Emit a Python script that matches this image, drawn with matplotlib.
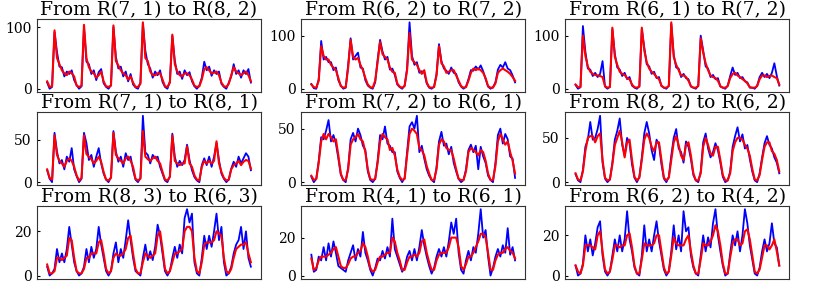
import numpy as np
import matplotlib
matplotlib.use('Agg')
import matplotlib.pyplot as plt

plt.rcParams['font.family'] = 'DejaVu Serif'

titles = ['From R(7, 1) to R(8, 2)', 'From R(6, 2) to R(7, 2)', 'From R(6, 1) to R(7, 2)',
          'From R(7, 1) to R(8, 1)', 'From R(7, 2) to R(6, 1)', 'From R(8, 2) to R(6, 2)',
          'From R(8, 3) to R(6, 3)', 'From R(4, 1) to R(6, 1)', 'From R(6, 2) to R(4, 2)']
yticks = [[0, 100], [0, 100], [0, 100],
          [0, 50], [0, 50], [0, 50],
          [0, 20], [0, 20], [0, 20]]

# observed (blue) and predicted (red), 2-hour steps over one week
p1_blue = [10, 0, 3, 92, 60, 36, 35, 20, 28, 24, 30, 14,
           6, 0, 4, 100, 44, 40, 24, 30, 14, 27, 32, 9,
           3, 0, 6, 100, 52, 33, 36, 20, 28, 12, 24, 7,
           2, 0, 10, 106, 62, 40, 33, 18, 28, 22, 30, 11,
           3, 0, 12, 86, 46, 24, 28, 16, 30, 22, 27, 12,
           4, 0, 5, 18, 44, 30, 36, 21, 30, 24, 28, 8,
           3, 0, 10, 20, 40, 24, 30, 18, 30, 24, 32, 10]
p1_red = [12, 3, 4, 95, 50, 40, 30, 25, 22, 28, 25, 20,
          5, 3, 5, 104, 50, 35, 28, 25, 18, 22, 28, 12,
          4, 3, 5, 103, 45, 38, 30, 25, 22, 15, 20, 10,
          3, 3, 8, 108, 50, 45, 28, 22, 22, 25, 25, 15,
          4, 3, 10, 88, 40, 28, 22, 20, 25, 25, 22, 15,
          5, 3, 4, 15, 32, 35, 30, 25, 26, 28, 22, 10,
          4, 3, 8, 22, 35, 28, 25, 22, 25, 28, 22, 12]

p2_blue = [9, 1, 0, 18, 90, 55, 60, 50, 50, 35, 40, 16,
           6, 0, 2, 45, 95, 55, 62, 68, 40, 38, 16, 6,
           2, 0, 12, 55, 92, 70, 55, 60, 36, 38, 26, 8,
           3, 0, 6, 38, 125, 62, 45, 50, 30, 33, 30, 10,
           2, 0, 4, 28, 84, 52, 38, 34, 28, 40, 30, 28,
           12, 4, 0, 4, 18, 35, 34, 42, 36, 44, 33, 18,
           4, 0, 3, 12, 36, 45, 40, 50, 38, 35, 25, 12]
p2_red = [8, 3, 2, 15, 80, 62, 55, 55, 45, 40, 35, 20,
          5, 2, 3, 40, 92, 60, 55, 58, 45, 35, 20, 8,
          3, 2, 15, 50, 88, 65, 60, 55, 40, 32, 30, 10,
          4, 2, 5, 35, 105, 55, 50, 45, 35, 28, 35, 12,
          3, 2, 3, 25, 80, 48, 42, 30, 32, 35, 35, 25,
          15, 5, 2, 3, 15, 30, 38, 35, 38, 35, 30, 20,
          5, 2, 2, 10, 30, 35, 38, 35, 32, 28, 22, 15]

p3_blue = [7, 0, 3, 118, 70, 38, 36, 24, 30, 22, 28, 52,
           4, 0, 4, 112, 66, 40, 36, 24, 30, 18, 22, 6,
           2, 0, 5, 112, 78, 46, 42, 28, 32, 20, 22, 5,
           2, 0, 6, 122, 64, 40, 38, 22, 28, 20, 18, 4,
           2, 0, 6, 100, 72, 42, 38, 22, 26, 18, 20, 4,
           2, 0, 6, 24, 40, 26, 30, 20, 22, 14, 12, 2,
           2, 0, 6, 22, 30, 22, 28, 20, 30, 48, 24, 6]
p3_red = [8, 3, 3, 100, 62, 42, 32, 28, 26, 25, 24, 22,
          5, 2, 3, 115, 60, 45, 32, 28, 26, 20, 18, 8,
          3, 2, 4, 115, 72, 50, 38, 32, 28, 22, 18, 6,
          2, 2, 5, 125, 60, 45, 35, 25, 25, 22, 15, 5,
          2, 2, 5, 95, 68, 48, 35, 25, 22, 20, 15, 5,
          2, 2, 5, 20, 28, 30, 25, 22, 18, 15, 10, 3,
          2, 2, 5, 18, 25, 25, 22, 24, 25, 22, 20, 8]

p4_blue = [14, 4, 0, 58, 36, 22, 26, 15, 30, 24, 40, 15,
           7, 0, 4, 58, 46, 26, 32, 18, 30, 40, 22, 10,
           3, 0, 6, 60, 36, 24, 30, 18, 34, 26, 30, 14,
           3, 0, 5, 78, 35, 32, 22, 32, 28, 30, 18, 10,
           2, 0, 7, 57, 30, 18, 25, 20, 26, 44, 26, 14,
           6, 2, 0, 20, 28, 20, 30, 18, 30, 46, 26, 10,
           4, 0, 3, 16, 24, 18, 30, 22, 28, 34, 30, 14]
p4_red = [15, 5, 3, 55, 32, 25, 22, 18, 25, 28, 25, 18,
          8, 2, 5, 55, 33, 30, 27, 22, 25, 30, 24, 12,
          3, 2, 5, 58, 32, 28, 25, 22, 28, 30, 25, 18,
          4, 2, 4, 60, 30, 27, 25, 28, 30, 25, 22, 12,
          3, 2, 6, 55, 25, 22, 20, 22, 22, 42, 22, 18,
          8, 3, 2, 18, 25, 22, 25, 22, 25, 48, 22, 12,
          5, 2, 3, 15, 20, 22, 25, 20, 24, 26, 25, 16]

p5_blue = [5, 0, 3, 20, 42, 40, 48, 58, 38, 44, 36, 22,
           7, 2, 0, 14, 40, 46, 38, 50, 44, 34, 30, 10,
           2, 0, 3, 20, 44, 40, 52, 36, 34, 28, 28, 10,
           4, 0, 4, 28, 52, 56, 50, 62, 28, 34, 22, 12,
           6, 2, 0, 14, 38, 47, 34, 36, 26, 33, 18, 10,
           3, 0, 2, 12, 30, 35, 28, 34, 12, 33, 24, 18,
           6, 2, 0, 18, 44, 50, 36, 45, 40, 24, 22, 4]
p5_red = [6, 2, 3, 18, 38, 45, 40, 45, 42, 38, 40, 25,
          8, 2, 2, 12, 35, 40, 42, 45, 40, 38, 28, 12,
          3, 2, 3, 18, 38, 45, 42, 40, 30, 32, 25, 12,
          5, 2, 3, 25, 45, 50, 48, 45, 32, 30, 25, 15,
          8, 2, 2, 12, 35, 40, 38, 32, 30, 30, 22, 12,
          3, 2, 2, 10, 28, 32, 30, 28, 25, 30, 28, 20,
          8, 2, 2, 15, 38, 45, 40, 35, 38, 28, 20, 8]

p6_blue = [9, 2, 0, 14, 40, 48, 68, 48, 50, 60, 75, 22,
           4, 0, 3, 22, 48, 58, 72, 42, 30, 50, 44, 20,
           5, 0, 6, 28, 55, 68, 55, 36, 25, 48, 42, 20,
           4, 0, 6, 30, 50, 60, 38, 34, 22, 46, 40, 26,
           8, 2, 0, 12, 45, 55, 38, 28, 34, 44, 36, 22,
           6, 0, 2, 12, 40, 52, 62, 46, 54, 38, 42, 26,
           12, 2, 0, 10, 28, 44, 52, 42, 38, 28, 22, 10]
p6_red = [10, 3, 2, 12, 35, 50, 52, 52, 45, 52, 55, 25,
          5, 2, 3, 20, 42, 50, 58, 45, 28, 45, 48, 25,
          6, 2, 5, 25, 48, 55, 50, 40, 35, 45, 45, 25,
          5, 2, 5, 25, 45, 52, 42, 30, 25, 42, 45, 30,
          10, 2, 2, 10, 40, 50, 42, 32, 30, 40, 40, 25,
          8, 2, 2, 10, 35, 45, 50, 50, 48, 42, 38, 30,
          15, 3, 2, 8, 25, 40, 45, 45, 35, 32, 25, 12]

p7_blue = [4, 0, 1, 3, 12, 6, 10, 6, 12, 22, 14, 6,
           2, 0, 1, 4, 12, 6, 13, 8, 12, 22, 14, 8,
           2, 0, 2, 10, 15, 6, 12, 8, 16, 25, 16, 8,
           2, 1, 0, 8, 14, 7, 11, 7, 13, 23, 18, 10,
           2, 0, 2, 8, 13, 8, 14, 10, 26, 30, 24, 28,
           6, 1, 0, 8, 18, 12, 18, 13, 20, 28, 16, 22,
           6, 0, 1, 4, 10, 14, 16, 22, 12, 20, 8, 4]
p7_red = [5, 1, 1, 2, 8, 8, 7, 8, 9, 17, 16, 8,
          2, 1, 1, 3, 8, 8, 10, 10, 10, 15, 16, 10,
          3, 1, 2, 8, 10, 9, 9, 10, 12, 17, 18, 10,
          3, 1, 1, 6, 10, 9, 8, 9, 10, 18, 20, 12,
          3, 1, 2, 6, 10, 10, 11, 12, 20, 22, 22, 20,
          8, 2, 1, 6, 14, 15, 15, 15, 16, 20, 19, 18,
          8, 2, 1, 3, 8, 12, 13, 14, 14, 15, 10, 6]

p8_blue = [11, 2, 3, 10, 8, 15, 8, 17, 10, 18, 12, 5,
           4, 3, 2, 8, 12, 16, 8, 14, 10, 23, 12, 8,
           3, 0, 4, 9, 8, 13, 9, 15, 10, 30, 14, 10,
           6, 2, 4, 10, 13, 8, 14, 8, 15, 24, 16, 10,
           5, 1, 4, 10, 14, 10, 15, 10, 18, 28, 22, 30,
           12, 3, 1, 8, 13, 8, 15, 12, 22, 35, 20, 24,
           10, 0, 4, 10, 14, 10, 16, 12, 25, 11, 15, 8]
p8_red = [9, 3, 4, 8, 10, 10, 10, 11, 12, 14, 15, 10,
          5, 4, 4, 6, 9, 10, 10, 12, 13, 17, 15, 10,
          4, 2, 3, 7, 10, 10, 11, 12, 12, 20, 18, 12,
          8, 3, 3, 7, 10, 10, 11, 10, 12, 18, 19, 12,
          7, 3, 3, 8, 11, 12, 12, 12, 15, 20, 20, 20,
          15, 5, 3, 6, 10, 10, 12, 15, 18, 22, 22, 20,
          12, 3, 3, 8, 11, 12, 12, 14, 15, 13, 12, 9]

p9_blue = [5, 0, 1, 6, 20, 12, 18, 10, 16, 24, 27, 10,
           2, 0, 2, 10, 18, 12, 20, 12, 18, 32, 18, 12,
           4, 1, 0, 10, 25, 12, 18, 12, 20, 27, 17, 10,
           3, 0, 2, 12, 25, 13, 20, 12, 32, 22, 24, 10,
           4, 1, 0, 10, 20, 12, 19, 14, 26, 33, 20, 12,
           5, 0, 1, 11, 20, 15, 22, 12, 20, 33, 26, 15,
           8, 1, 0, 4, 12, 18, 12, 16, 26, 16, 14, 5]
p9_red = [5, 2, 1, 5, 15, 15, 15, 14, 13, 20, 22, 12,
          3, 1, 2, 8, 15, 15, 14, 15, 15, 20, 21, 14,
          5, 1, 1, 8, 16, 15, 15, 15, 16, 20, 20, 12,
          4, 1, 2, 10, 19, 16, 15, 15, 15, 18, 20, 12,
          5, 1, 1, 8, 16, 15, 15, 17, 20, 25, 22, 15,
          6, 1, 1, 9, 16, 18, 18, 15, 16, 22, 23, 18,
          10, 2, 1, 3, 9, 15, 15, 13, 15, 18, 12, 5]

blues = [p1_blue, p2_blue, p3_blue, p4_blue, p5_blue, p6_blue, p7_blue, p8_blue, p9_blue]
reds = [p1_red, p2_red, p3_red, p4_red, p5_red, p6_red, p7_red, p8_red, p9_red]

fig, axes = plt.subplots(3, 3, figsize=(8.31, 2.84), dpi=100)
fig.subplots_adjust(left=0.0445, right=0.95, top=0.933, bottom=0.018,
                    wspace=0.179, hspace=0.279)

for ax, title, yt, b, r in zip(axes.flat, titles, yticks, blues, reds):
    t = np.arange(len(b))
    ax.plot(t, b, color='#0000ff', lw=1.3)
    ax.plot(t, r, color='#ff0000', lw=1.5)
    ax.set_title(title, fontsize=13.5, pad=2.5)
    ax.set_xticks([])
    ax.set_yticks(yt)
    ax.tick_params(axis='y', labelsize=10, length=2.5, direction='in', pad=4)
    for s in ax.spines.values():
        s.set_color('#333333')

plt.savefig('out.png')
